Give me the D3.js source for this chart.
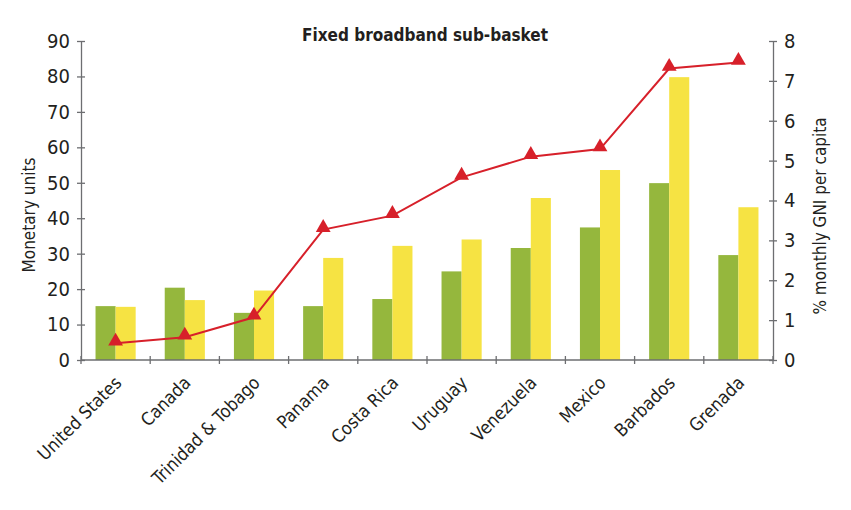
<!DOCTYPE html>
<html lang="en">
<head>
  <meta charset="UTF-8" />
  <title>Fixed broadband sub-basket</title>
  <style>
    body { margin: 0; background: #fff; }
    svg text { font-family: "DejaVu Sans Condensed", "DejaVu Sans", sans-serif; font-stretch: condensed; fill: #231f20; }
    .axis path, .axis line { stroke: #6d6e71; stroke-width: 1.3; }
  </style>
</head>
<body>
  <svg id="chart"></svg>

  <script src="https://d3js.org/d3.v7.min.js"></script>
  <script>
    const countries = ["United States", "Canada", "Trinidad & Tobago", "Panama", "Costa Rica",
      "Uruguay", "Venezuela", "Mexico", "Barbados", "Grenada"];
    const greenValues = [15.2, 20.4, 13.3, 15.2, 17.2, 25.0, 31.6, 37.4, 49.9, 29.6];
    const yellowValues = [15.0, 16.9, 19.6, 28.8, 32.2, 34.0, 45.7, 53.6, 79.8, 43.1];
    const gniValues = [0.42, 0.57, 1.07, 3.27, 3.62, 4.58, 5.1, 5.29, 7.31, 7.46];
    const leftTicks = [0, 10, 20, 30, 40, 50, 60, 70, 80, 90];
    const rightTicks = [0, 1, 2, 3, 4, 5, 6, 7, 8];

    const W = 851, H = 510;
    const margin = { top: 41, right: 78, bottom: 150, left: 81 };
    const width = W - margin.left - margin.right;
    const height = H - margin.top - margin.bottom;

    const root = d3.select("#chart").attr("width", W).attr("height", H);
    const svg = root.append("g").attr("transform", `translate(${margin.left},${margin.top})`);

    const x = d3.scaleBand().domain(countries).range([0, width]);
    const yL = d3.scaleLinear().domain([0, 90]).range([height, 0]);
    const yR = d3.scaleLinear().domain([0, 8]).range([height, 0]);

    const barW = x.bandwidth() * 0.29;
    const data = countries.map((c, i) => ({ c, g: greenValues[i], yv: yellowValues[i], r: gniValues[i] }));

    // bars
    svg.selectAll(".bar-g").data(data).join("rect")
      .attr("x", d => x(d.c) + x.bandwidth() / 2 - barW)
      .attr("y", d => yL(d.g))
      .attr("width", barW)
      .attr("height", d => height - yL(d.g))
      .attr("fill", "#95b73d");

    svg.selectAll(".bar-y").data(data).join("rect")
      .attr("x", d => x(d.c) + x.bandwidth() / 2)
      .attr("y", d => yL(d.yv))
      .attr("width", barW)
      .attr("height", d => height - yL(d.yv))
      .attr("fill", "#f6e343");

    // left axis
    const left = svg.append("g").attr("class", "axis")
      .call(d3.axisLeft(yL).tickValues(leftTicks).tickSize(4).tickSizeOuter(0));
    left.selectAll(".tick line").attr("x1", 4).attr("x2", -4);
    left.selectAll("text").attr("x", -11).attr("font-size", 20);

    // right axis
    const right = svg.append("g").attr("class", "axis")
      .attr("transform", `translate(${width},0)`)
      .call(d3.axisRight(yR).tickValues(rightTicks).tickSize(4).tickSizeOuter(0));
    right.selectAll(".tick line").attr("x1", -4).attr("x2", 4);
    right.selectAll("text").attr("x", 11).attr("font-size", 20);

    // bottom axis with ticks at category boundaries
    const bottom = svg.append("g").attr("class", "axis")
      .attr("transform", `translate(0,${height})`);
    bottom.append("line").attr("x1", 0).attr("x2", width).attr("y1", 0).attr("y2", 0);
    const bounds = countries.map(c => x(c)).concat([width]);
    bottom.selectAll(".bt").data(bounds).join("line")
      .attr("x1", d => d).attr("x2", d => d).attr("y1", -4).attr("y2", 4);
    bottom.selectAll(".xl").data(countries).join("text")
      .attr("transform", d => `translate(${x(d) + x.bandwidth() / 2 + 7},${24}) rotate(-45)`)
      .attr("text-anchor", "end")
      .attr("font-size", 18)
      .text(d => d);

    // line series
    const line = d3.line().x(d => x(d.c) + x.bandwidth() / 2).y(d => yR(d.r));
    svg.append("path").datum(data)
      .attr("d", line)
      .attr("fill", "none")
      .attr("stroke", "#d7202a")
      .attr("stroke-width", 2);

    svg.selectAll(".mk").data(data).join("path")
      .attr("transform", d => `translate(${x(d.c) + x.bandwidth() / 2},${yR(d.r) - 2})`)
      .attr("d", d3.symbol(d3.symbolTriangle, 95))
      .attr("fill", "#d7202a");

    // titles
    root.append("text")
      .attr("x", 425).attr("y", 41)
      .attr("text-anchor", "middle")
      .attr("font-size", 17).attr("font-weight", "bold")
      .text("Fixed broadband sub-basket");

    root.append("text")
      .attr("transform", `translate(35,215) rotate(-90)`)
      .attr("text-anchor", "middle")
      .attr("font-size", 17)
      .text("Monetary units");

    root.append("text")
      .attr("transform", `translate(826,216) rotate(-90)`)
      .attr("text-anchor", "middle")
      .attr("font-size", 17)
      .text("% monthly GNI per capita");
  </script>
</body>
</html>
